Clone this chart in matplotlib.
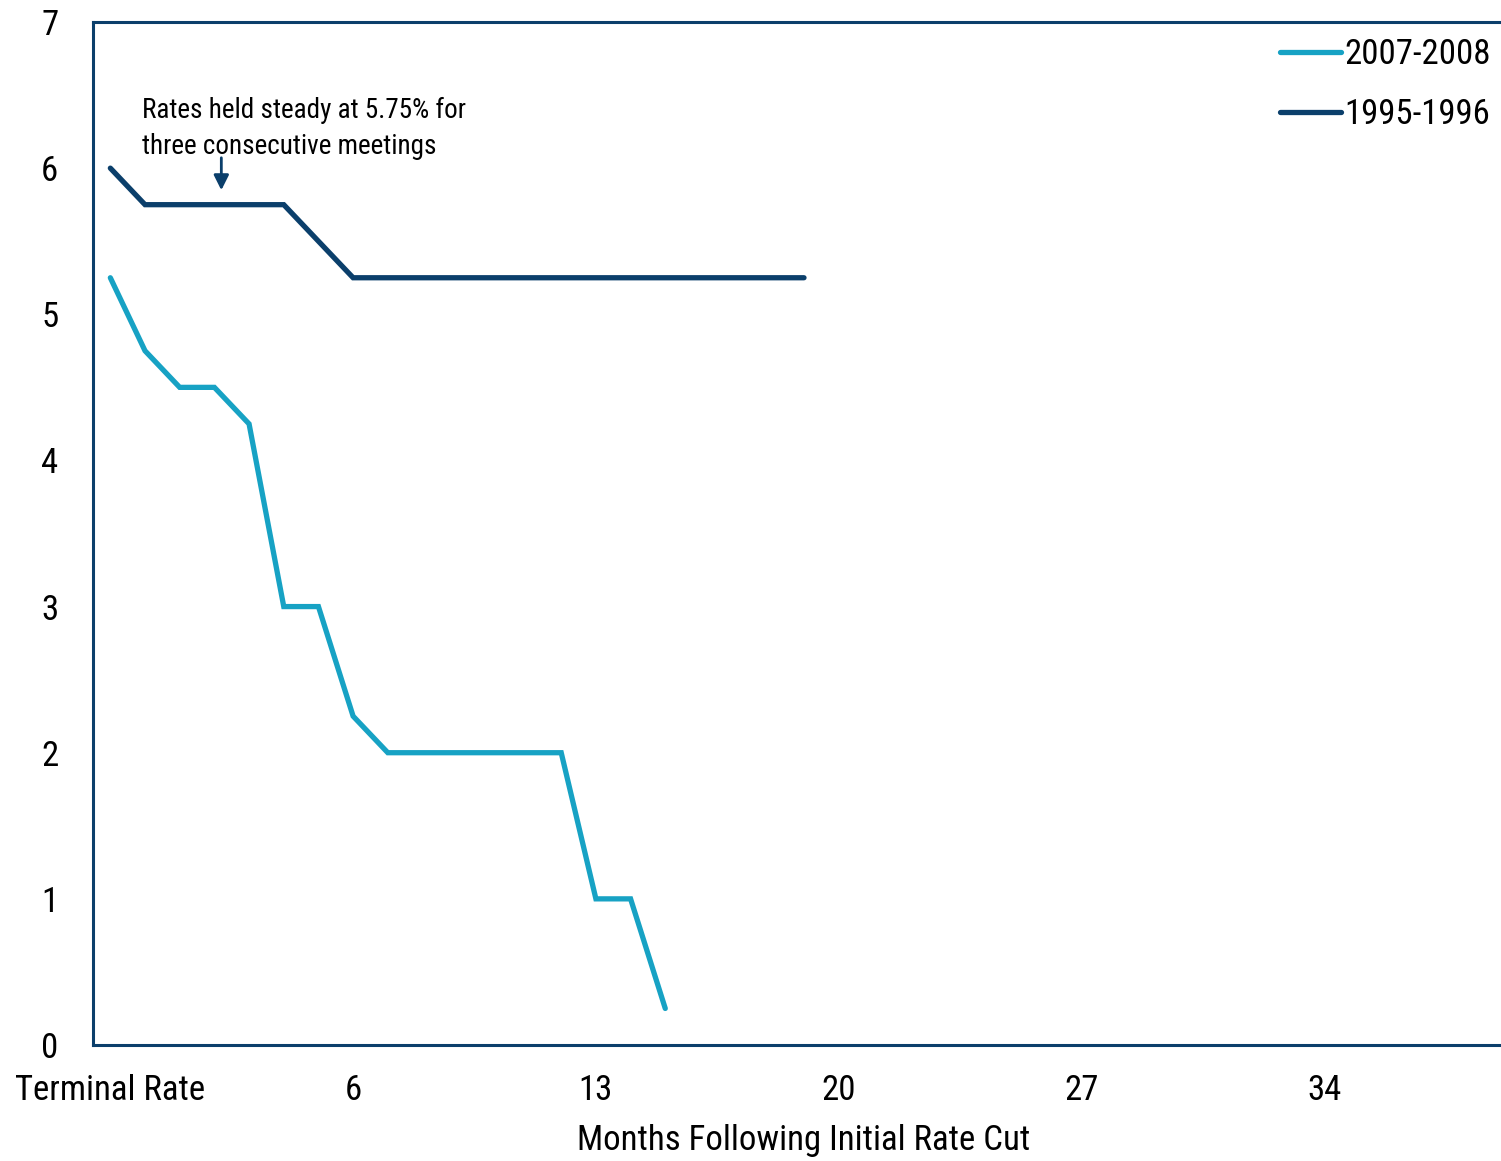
import matplotlib
matplotlib.use("Agg")
import matplotlib.pyplot as plt

plt.rcParams['font.family'] = ['Roboto Condensed', 'DejaVu Sans']

# x categories: index 0 = terminal rate, index i = month i-1
month_labels = ["Terminal Rate"] + [str(m) for m in range(40)]
tick_idx = [0, 7, 14, 21, 28, 35]

rates_2007 = [5.25, 4.75, 4.5, 4.5, 4.25, 3.0, 3.0, 2.25, 2.0, 2.0, 2.0, 2.0, 2.0, 2.0,
              1.0, 1.0, 0.25]
rates_1995 = [6.0, 5.75, 5.75, 5.75, 5.75, 5.75, 5.5, 5.25, 5.25, 5.25, 5.25, 5.25, 5.25,
              5.25, 5.25, 5.25, 5.25, 5.25, 5.25, 5.25, 5.25]

light = '#17A2C4'
navy = '#0B3F6B'

fig = plt.figure(figsize=(15.01, 11.61), dpi=100)
ax = fig.add_axes([93 / 1501, 116 / 1161, (1515 - 93) / 1501, (1045 - 22) / 1161])

ax.plot(range(len(rates_2007)), rates_2007, color=light, lw=3.8, label='2007-2008',
        solid_capstyle='round', solid_joinstyle='miter')
ax.plot(range(len(rates_1995)), rates_1995, color=navy, lw=3.8, label='1995-1996',
        solid_capstyle='round', solid_joinstyle='miter')

ax.set_xlim(-0.5, len(month_labels) - 0.5)
ax.set_ylim(0, 7)
ax.set_xticks(tick_idx)
ax.set_xticklabels([month_labels[i] for i in tick_idx])
ax.set_yticks(range(8))
ax.tick_params(length=0, labelsize=25)
ax.tick_params(axis='y', pad=25)
ax.tick_params(axis='x', pad=21)

for s in ['left', 'top', 'bottom']:
    ax.spines[s].set_color(navy)
    ax.spines[s].set_linewidth(2.2)
ax.spines['right'].set_visible(False)

ax.set_xlabel('Months Following Initial Rate Cut', fontsize=25, labelpad=12)

ax.text(0.92, 6.49, 'Rates held steady at 5.75% for\nthree consecutive meetings',
        fontsize=19.5, va='top', ha='left', linespacing=1.45)
ax.annotate('', xy=(3.2, 5.83), xytext=(3.2, 6.09),
            arrowprops=dict(arrowstyle='-|>,head_length=0.9,head_width=0.45',
                            color=navy, lw=2))

leg = ax.legend(loc='upper right', bbox_to_anchor=(1.0, 1.008),
                frameon=False, fontsize=25, handlelength=1.75, handletextpad=0.1,
                labelspacing=0.78, borderaxespad=0.3)

fig.savefig('out.png', dpi=100)
